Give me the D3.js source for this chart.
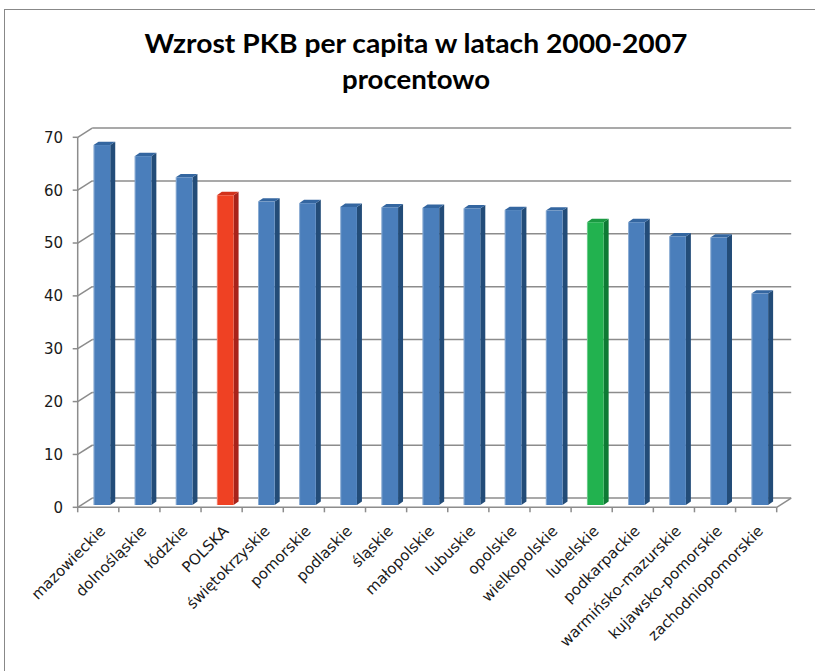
<!DOCTYPE html>
<html>
<head>
<meta charset="utf-8">
<script src="https://cdn.jsdelivr.net/npm/d3@7"></script>
<style>
  body { margin: 0; background: #fff; }
  svg { display: block; }
</style>
</head>
<body>
<svg id="chart"></svg>
<script>
// regions, growth of GDP per capita 2000-2007 (%)
var regions = ["mazowieckie", "dolnośląskie", "łódzkie", "POLSKA", "świętokrzyskie", "pomorskie",
  "podlaskie", "śląskie", "małopolskie", "lubuskie", "opolskie", "wielkopolskie", "lubelskie",
  "podkarpackie", "warmińsko-mazurskie", "kujawsko-pomorskie", "zachodniopomorskie"];
var growth = [68.1, 66.0, 62.0, 58.6, 57.4, 57.1, 56.4, 56.3, 56.2, 56.1, 55.8, 55.7, 53.5, 53.5, 50.8, 50.6, 40.0];
var yTicks = [0, 10, 20, 30, 40, 50, 60, 70];

var width = 815, height = 671;
var svg = d3.select("#chart").attr("width", width).attr("height", height);

// colours: front, top, side
var palette = {
  blue:  ["#4a7ebb", "#3466a0", "#234c78"],
  red:   ["#ef4123", "#d2321c", "#a8231a"],
  green: ["#22b24f", "#1a9a42", "#0e7a34"]
};
function pick(name) {
  if (name == "POLSKA") return palette.red;
  if (name == "lubelskie") return palette.green;
  return palette.blue;
}

// outer frame (right / bottom edges fall off the picture)
svg.append("rect")
  .attr("x", 4.5).attr("y", 9.5)
  .attr("width", 840).attr("height", 700)
  .attr("fill", "none").attr("stroke", "#888").attr("stroke-width", 1);

// title
var t1 = svg.append("text")
  .attr("x", 416).attr("y", 53)
  .attr("text-anchor", "middle")
  .style("font-family", "Lato, 'Open Sans', sans-serif")
  .style("font-weight", "bold")
  .style("font-size", "27px")
  .text("Wzrost PKB per capita w latach 2000-2007");
var t2 = svg.append("text")
  .attr("x", 416).attr("y", 89)
  .attr("text-anchor", "middle")
  .style("font-family", "Lato, 'Open Sans', sans-serif")
  .style("font-weight", "bold")
  .style("font-size", "27px")
  .text("procentowo");
t1.attr("textLength", 543).attr("lengthAdjust", "spacingAndGlyphs");
t2.attr("textLength", 148).attr("lengthAdjust", "spacingAndGlyphs");

// 3d box geometry
var x0 = 77.7, x1 = 776.7;
var dx = 14.5, dy = -9.2;          // back wall offset
var y = d3.scaleLinear().domain([0, 70]).range([507.3, 137.3]);
var x = d3.scaleBand().domain(regions).range([x0, x1]).padding(0);

var grid = svg.append("g")
  .attr("stroke", "#8c8c8c").attr("stroke-width", 1.5).attr("fill", "none");

// back wall gridlines + left wall diagonals
yTicks.forEach(function(v) {
  grid.append("line")
    .attr("x1", x0 + dx).attr("y1", y(v) + dy)
    .attr("x2", x1 + dx).attr("y2", y(v) + dy);
  grid.append("line")
    .attr("x1", x0).attr("y1", y(v))
    .attr("x2", x0 + dx).attr("y2", y(v) + dy);
});
// floor right edge
grid.append("line")
  .attr("x1", x1).attr("y1", y(0))
  .attr("x2", x1 + dx).attr("y2", y(0) + dy);

// bars
var bw = x.bandwidth() * 0.406;
var bf = 0.25;                      // depth where the bar front sits
var sx = 5, sy = -3.4;              // bar depth
var bars = svg.append("g").selectAll("g")
  .data(regions)
  .enter().append("g");

bars.each(function(d, i) {
  var g = d3.select(this);
  var c = pick(d);
  var left = x(d) + x.bandwidth() / 2 + dx * bf - bw / 2;
  var base = y(0) + dy * bf;
  var top = base - (y(0) - y(growth[i]));
  // side
  g.append("path")
    .attr("d", "M" + (left + bw) + "," + top + "L" + (left + bw + sx) + "," + (top + sy) +
      "L" + (left + bw + sx) + "," + (base + sy) + "L" + (left + bw) + "," + base + "Z")
    .attr("fill", c[2]);
  // top
  g.append("path")
    .attr("d", "M" + left + "," + top + "L" + (left + sx) + "," + (top + sy) +
      "L" + (left + bw + sx) + "," + (top + sy) + "L" + (left + bw) + "," + top + "Z")
    .attr("fill", c[1]);
  // front
  g.append("rect")
    .attr("x", left).attr("y", top)
    .attr("width", bw).attr("height", base - top)
    .attr("fill", c[0]);
  g.append("line")
    .attr("x1", left + 0.5).attr("y1", top)
    .attr("x2", left + 0.5).attr("y2", base)
    .attr("stroke", "#ffffff").attr("stroke-opacity", 0.35).attr("stroke-width", 1);
});

// front axes
var ax = svg.append("g")
  .attr("stroke", "#8c8c8c").attr("stroke-width", 1.5).attr("fill", "none");
ax.append("line").attr("x1", x0).attr("y1", y(0)).attr("x2", x1).attr("y2", y(0));
ax.append("line").attr("x1", x0).attr("y1", y(0)).attr("x2", x0).attr("y2", y(70));
yTicks.forEach(function(v) {
  ax.append("line").attr("x1", x0 - 5).attr("y1", y(v)).attr("x2", x0).attr("y2", y(v));
});
d3.range(regions.length + 1).forEach(function(i) {
  var xx = x0 + i * x.bandwidth();
  ax.append("line").attr("x1", xx).attr("y1", y(0)).attr("x2", xx).attr("y2", y(0) + 5);
});

// y labels
svg.append("g").selectAll("text")
  .data(yTicks)
  .enter().append("text")
  .attr("x", 63)
  .attr("y", function(d) { return y(d); })
  .attr("dy", "0.36em")
  .attr("text-anchor", "end")
  .style("font-family", "'DejaVu Sans', Verdana, sans-serif")
  .style("font-size", "15px")
  .attr("fill", "#1a1a1a")
  .text(function(d) { return d; });

// x labels
svg.append("g").selectAll("text")
  .data(regions)
  .enter().append("text")
  .attr("transform", function(d) {
    var cx = x(d) + x.bandwidth() / 2;
    return "translate(" + (cx + 8) + "," + 532 + ") rotate(-45)";
  })
  .attr("text-anchor", "end")
  .style("font-family", "'DejaVu Sans', Verdana, sans-serif")
  .style("font-size", "15px")
  .attr("fill", "#1a1a1a")
  .text(function(d) { return d; });
</script>
</body>
</html>
